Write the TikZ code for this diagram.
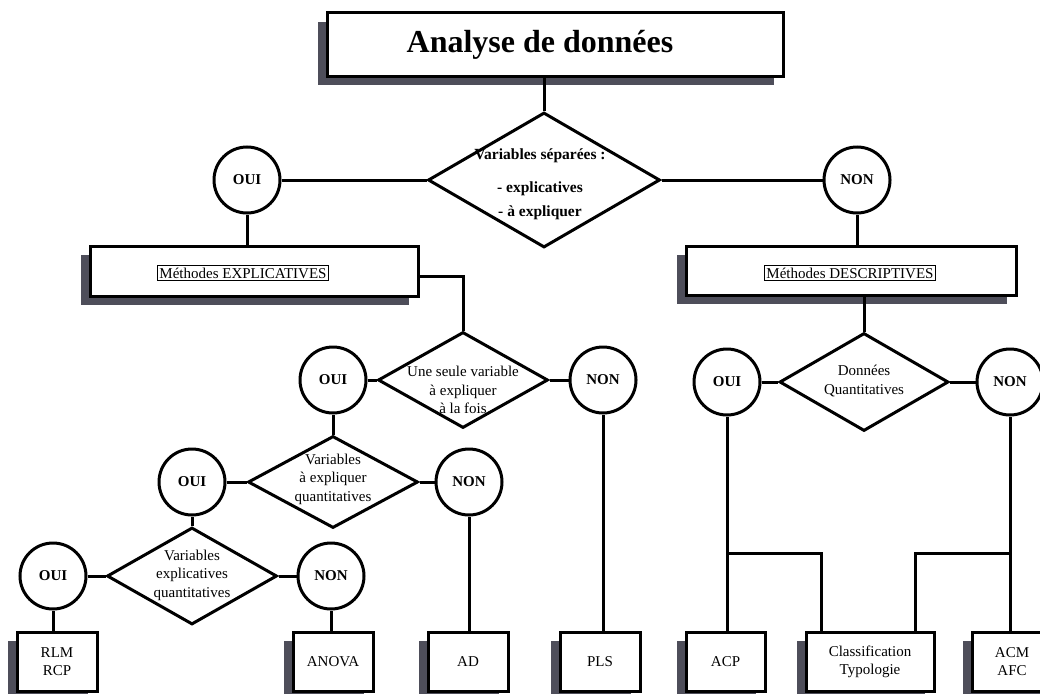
\documentclass[tikz,border=0pt]{standalone}
\usepackage{fontspec}
\setmainfont{Liberation Serif}
\usetikzlibrary{shapes.geometric,shadows,calc}
\definecolor{shadowc}{RGB}{78,78,90}
\begin{document}
\begin{tikzpicture}[x=1pt,y=1pt,
  lw/.style={line width=3pt},
  circ/.style={circle,draw,lw,minimum size=66pt,inner sep=0pt,fill=white,font=\bfseries\fontsize{15}{18}\selectfont},
  dia/.style={diamond,draw,lw,inner sep=0pt,fill=white},
  dtext/.style={align=center,font=\fontsize{15}{18.5}\selectfont,inner sep=0pt},
  shbox/.style={rectangle,draw,lw,fill=white,inner sep=0pt,general shadow={fill=shadowc,shadow xshift=-9pt,shadow yshift=-9pt}},
  leaf/.style={shbox,minimum width=80pt,minimum height=59pt,align=center,font=\fontsize{15}{18}\selectfont},
  frametext/.style={draw,line width=0.8pt,inner sep=2pt,font=\fontsize{15}{18}\selectfont},
  conn/.style={lw}]
\useasboundingbox (0,0) rectangle (1040,-693);

% title
\node[shbox,minimum width=456pt,minimum height=63pt] (title) at (555,-44.5) {};
\node[font=\bfseries\fontsize{32}{38}\selectfont,inner sep=0pt] (titlet) at (540,-45) {Analyse de données};

% level 1
\node[dia,minimum width=232pt,minimum height=135pt] (d1) at (544,-180) {};
\node[dtext,font=\bfseries\fontsize{15.5}{24}\selectfont] (d1t) at (540,-184) {Variables séparées :\\[9pt] - explicatives\\ - à expliquer};
\node[circ] (oui1) at (247,-180) {OUI};
\node[circ] (non1) at (857,-180) {NON};

% method boxes
\node[shbox,minimum width=328pt,minimum height=50pt] (expl) at (254,-271) {};
\node[frametext] (explt) at (243,-273) {Méthodes EXPLICATIVES};
\node[shbox,minimum width=330pt,minimum height=49pt] (desc) at (851,-270.5) {};
\node[frametext] (desct) at (850,-273) {Méthodes DESCRIPTIVES};

% explicative branch
\node[dia,minimum width=170pt,minimum height=96pt] (d2) at (463,-380) {};
\node[dtext] (d2t) at (463,-390) {Une seule variable\\ à expliquer\\ à la fois};
\node[circ] (oui2) at (333,-380) {OUI};
\node[circ] (non2) at (603,-380) {NON};

\node[dia,minimum width=170pt,minimum height=92pt] (d4) at (333,-482) {};
\node[dtext] (d4t) at (333,-479) {Variables\\ à expliquer\\ quantitatives};
\node[circ] (oui3) at (192,-482) {OUI};
\node[circ] (non3) at (469,-482) {NON};

\node[dia,minimum width=170pt,minimum height=97pt] (d5) at (192,-576) {};
\node[dtext] (d5t) at (192,-575) {Variables\\ explicatives\\ quantitatives};
\node[circ] (oui4) at (53,-576) {OUI};
\node[circ] (non4) at (331,-576) {NON};

% descriptive branch
\node[dia,minimum width=169pt,minimum height=98pt] (d3) at (864,-382) {};
\node[dtext] (d3t) at (864,-381) {Données\\ Quantitatives};
\node[circ] (oui5) at (727,-382) {OUI};
\node[circ] (non5) at (1010,-382) {NON};

% leaves
\node[leaf] (rlm) at (57,-661.5) {RLM\\ RCP};
\node[leaf] (anova) at (333,-661.5) {ANOVA};
\node[leaf] (ad) at (468,-661.5) {AD};
\node[leaf] (pls) at (600,-661.5) {PLS};
\node[leaf,minimum width=79pt] (acp) at (725.5,-661.5) {ACP};
\node[leaf,minimum width=128pt] (class) at (870,-661.5) {Classification\\ Typologie};
\node[leaf] (acm) at (1012,-661.5) {ACM\\ AFC};

% connectors
\draw[conn] (title.south -| d1.north) -- (d1.north);
\draw[conn] (oui1) -- (d1.west);
\draw[conn] (d1.east) -- (non1);
\draw[conn] (oui1) -- (oui1 |- expl.north);
\draw[conn] (non1) -- (non1 |- desc.north);
\draw[conn] ([yshift=-5pt]expl.east) -| (d2.north);
\draw[conn] (desc.south -| d3.north) -- (d3.north);

\draw[conn] (oui2) -- (d2.west);
\draw[conn] (d2.east) -- (non2);
\draw[conn] (oui2) -- (d4.north);
\draw[conn] (oui3) -- (d4.west);
\draw[conn] (d4.east) -- (non3);
\draw[conn] (oui3) -- (d5.north);
\draw[conn] (oui4) -- (d5.west);
\draw[conn] (d5.east) -- (non4);
\draw[conn] (oui4) -- (oui4 |- rlm.north);
\draw[conn] (non4) -- (non4 |- anova.north);
\draw[conn] (non3) -- (non3 |- ad.north);
\draw[conn] (non2) -- (non2 |- pls.north);

\draw[conn] (oui5) -- (d3.west);
\draw[conn] (d3.east) -- (non5);
\draw[conn] (oui5) -- (oui5 |- acp.north);
\draw[conn] (non5) -- (non5 |- acm.north);
\coordinate (jl) at (821,-553);
\coordinate (jr) at (915,-553);
\draw[conn] (oui5 |- jl) -- (jl) -- (jl |- class.north);
\draw[conn] (non5 |- jr) -- (jr) -- (jr |- class.north);
\end{tikzpicture}
\end{document}
